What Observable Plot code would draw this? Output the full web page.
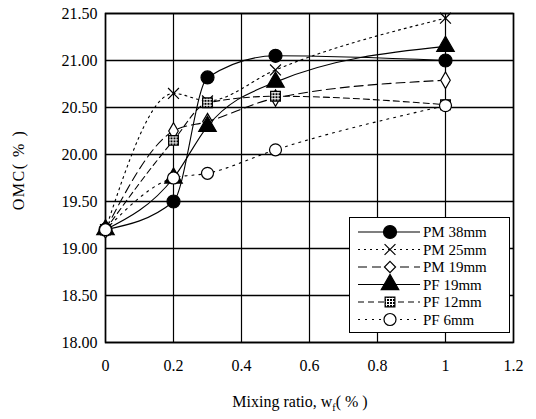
<!DOCTYPE html>
<html><head><meta charset="utf-8">
<script src="https://cdn.jsdelivr.net/npm/d3@7"></script>
<script src="https://cdn.jsdelivr.net/npm/@observablehq/plot@0.6"></script>
<style>
body{margin:0;background:#fff;font-family:"Liberation Serif",serif;}
#wrap{position:relative;width:536px;height:419px;}
#legend{position:absolute;left:349px;top:217px;background:#fff;border:1.5px solid #000;}
</style></head>
<body><div id="wrap"></div>
<script>
const ratios = [0, 0.2, 0.3, 0.5, 1];
const seriesNames = ["PM 38mm", "PM 25mm", "PM 19mm", "PF 19mm", "PF 12mm", "PF 6mm"];
const pm38 = [19.2, 19.5, 20.82, 21.05, 21.0];
const pm25 = [19.2, 20.65, 20.57, 20.9, 21.45];
const pm19 = [19.2, 20.25, 20.35, 20.6, 20.79];
const pf19 = [19.2, 19.75, 20.3, 20.77, 21.15];
const pf12 = [19.2, 20.15, 20.55, 20.62, 20.53];
const pf6  = [19.2, 19.75, 19.8, 20.05, 20.52];
const xTicks = [0, 0.2, 0.4, 0.6, 0.8, 1, 1.2];
const yTicks = [18, 18.5, 19, 19.5, 20, 20.5, 21, 21.5];

const valuesList = [pm38, pm25, pm19, pf19, pf12, pf6];
const styles = {
  "PM 38mm": {dash: null, symbol: "circle", fill: "#000", r: 6.5},
  "PM 25mm": {dash: "2,4", symbol: "times", fill: "none", r: 5},
  "PM 19mm": {dash: "9,5", symbol: "diamond", fill: "#fff", r: 5},
  "PF 19mm": {dash: null, symbol: "triangle", fill: "#000", r: 6.5},
  "PF 12mm": {dash: "6,4", symbol: "square", fill: "url(#hatch)", r: 5.5},
  "PF 6mm":  {dash: "2,5", symbol: "circle", fill: "#fff", r: 6}
};
const data = [];
seriesNames.forEach((s, i) => ratios.forEach((x, j) => data.push({series: s, x, y: valuesList[i][j]})));

const marks = [
  Plot.gridX(xTicks, {stroke: "#000", strokeOpacity: 1, strokeWidth: 1.2}),
  Plot.gridY(yTicks, {stroke: "#000", strokeOpacity: 1, strokeWidth: 1.6}),
  Plot.frame({stroke: "#000", strokeWidth: 1.6}),
  Plot.axisX(xTicks, {tickSize: 0, tickPadding: 17, tickFormat: d => String(d), fontSize: 16, label: null}),
  Plot.axisY(yTicks, {tickSize: 0, tickPadding: 8, tickFormat: d3.format(".2f"), fontSize: 16, label: null})
];
seriesNames.forEach(s => {
  const st = styles[s];
  const d = data.filter(e => e.series === s);
  marks.push(Plot.line(d, {x: "x", y: "y", curve: "monotone-x", stroke: "#000", strokeWidth: 1.1, strokeDasharray: st.dash}));
});
seriesNames.forEach(s => {
  const st = styles[s];
  const d = data.filter(e => e.series === s);
  marks.push(Plot.dot(d, {x: "x", y: "y", symbol: () => st.symbol, r: st.r, fill: st.fill, stroke: "#000", strokeWidth: 1.2}));
});

const chart = Plot.plot({
  width: 536, height: 419,
  marginLeft: 105, marginRight: 23, marginTop: 13, marginBottom: 77,
  style: {fontFamily: "Liberation Serif, serif", fontSize: "16px", color: "#000", background: "#fff"},
  x: {domain: [0, 1.2]},
  y: {domain: [18, 21.5]},
  marks
});
const svg = d3.select(chart);
const defs = svg.insert("defs", ":first-child");
const pat = defs.append("pattern").attr("id", "hatch").attr("width", 3).attr("height", 3).attr("patternUnits", "userSpaceOnUse");
pat.append("rect").attr("width", 3).attr("height", 3).attr("fill", "#fff");
pat.append("rect").attr("width", 2).attr("height", 2).attr("fill", "#000");
svg.append("text").attr("transform", "translate(24,170) rotate(-90)").attr("text-anchor", "middle")
  .attr("font-size", 16).attr("letter-spacing", 1.5).attr("fill", "#000").text("OMC( % )");
const xl = svg.append("text").attr("x", 300).attr("y", 407).attr("text-anchor", "middle").attr("font-size", 16).attr("fill", "#000");
xl.append("tspan").text("Mixing ratio, w");
xl.append("tspan").attr("font-size", 10).attr("dy", 4).text("f");
xl.append("tspan").attr("dy", -4).text("( % )");
document.getElementById("wrap").appendChild(chart);

// legend
const leg = d3.select("#wrap").append("div").attr("id", "legend");
const ls = leg.append("svg").attr("width", 159).attr("height", 114).attr("style", "display:block");
const lgDefs = ls.append("defs");
const p2 = lgDefs.append("pattern").attr("id", "hatch2").attr("width", 3).attr("height", 3).attr("patternUnits", "userSpaceOnUse");
p2.append("rect").attr("width", 3).attr("height", 3).attr("fill", "#fff");
p2.append("rect").attr("width", 2).attr("height", 2).attr("fill", "#000");
const symMap = {circle: d3.symbolCircle, times: d3.symbolTimes, diamond: d3.symbolDiamond2, triangle: d3.symbolTriangle, square: d3.symbolSquare};
seriesNames.forEach((s, i) => {
  const st = styles[s];
  const yy = 14 + i * 17.5;
  ls.append("line").attr("x1", 8).attr("x2", 70).attr("y1", yy).attr("y2", yy).attr("stroke", "#000").attr("stroke-width", 1.1)
    .attr("stroke-dasharray", st.dash);
  ls.append("path").attr("transform", `translate(40,${yy})`)
    .attr("d", d3.symbol(symMap[st.symbol], Math.PI * st.r * st.r)())
    .attr("fill", st.fill === "url(#hatch)" ? "url(#hatch2)" : st.fill).attr("stroke", "#000").attr("stroke-width", 1.2);
  ls.append("text").attr("x", 73).attr("y", yy + 5).attr("font-size", 15).attr("fill", "#000")
    .attr("font-family", "Liberation Serif, serif").text(s);
});
</script></body></html>
